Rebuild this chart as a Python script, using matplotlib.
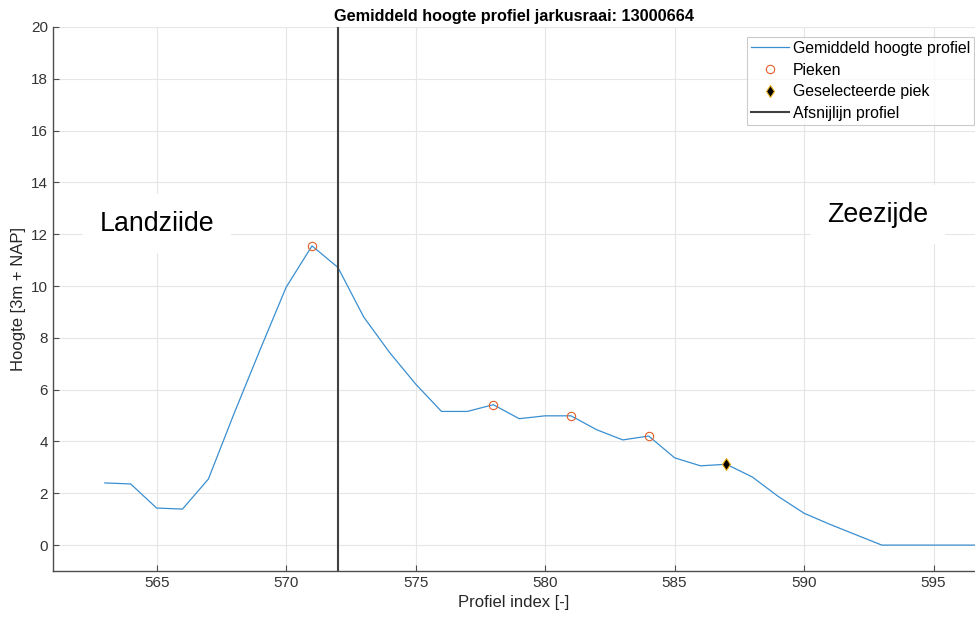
import matplotlib
matplotlib.use("Agg")
from matplotlib import pyplot as plt
import numpy as np

plt.rcParams['font.family'] = ['Liberation Sans', 'DejaVu Sans']

# Profile data
profiel_index = list(range(563, 598))
hoogte = [2.40, 2.36, 1.43, 1.39, 2.55, 5.10, 7.55, 9.95, 11.55, 10.72,
          8.80, 7.43, 6.22, 5.16, 5.16, 5.42, 4.88, 4.99, 4.99, 4.45,
          4.06, 4.21, 3.37, 3.06, 3.12, 2.63, 1.88, 1.23, 0.80, 0.40,
          0.0, 0.0, 0.0, 0.0, 0.0]

pieken_x = [571, 578, 581, 584]
pieken_y = [11.55, 5.42, 4.99, 4.21]

geselecteerd_x = [587]
geselecteerd_y = [3.12]

afsnijlijn = 572

fig = plt.figure(figsize=(9.75, 6.2), dpi=100)
ax = fig.add_axes([53 / 975, 1 - 571 / 620, 1 - 53 / 975, (571 - 27) / 620])

ax.plot(profiel_index, hoogte, color='#3a8fd0', lw=0.9, label='Gemiddeld hoogte profiel')
ax.plot(pieken_x, pieken_y, 'o', mfc='none', mec='#e0602a', ms=6, mew=0.8, label='Pieken')
ax.plot(geselecteerd_x, geselecteerd_y, 'd', mfc='black', mec='#EDB120', ms=6, mew=0.8,
        label='Geselecteerde piek')
ax.axvline(afsnijlijn, color='#404040', lw=1.5, label='Afsnijlijn profiel')

ax.set_xlim(561, 596.6)
ax.set_ylim(-1, 20)
ax.set_xticks(np.arange(565, 596, 5))
ax.set_yticks(np.arange(0, 21, 2))
ax.grid(True, color='#e6e6e6', lw=0.8)
ax.set_axisbelow(True)

for s in ['top', 'right']:
    ax.spines[s].set_visible(False)
for s in ['left', 'bottom']:
    ax.spines[s].set_color('#4d4d4d')
    ax.spines[s].set_linewidth(1.0)
ax.tick_params(direction='in', length=4, color='#4d4d4d', labelcolor='#333333', labelsize=11)

ax.set_xlabel('Profiel index [-]', fontsize=12, color='#262626')
ax.set_ylabel('Hoogte [3m + NAP]', fontsize=12, color='#262626')
ax.set_title('Gemiddeld hoogte profiel jarkusraai: 13000664', fontsize=11.7, fontweight='bold', pad=4)

ax.text(562.8, 12.4, 'Landziide', fontsize=19.3, va='center', ha='left',
        bbox=dict(facecolor='white', edgecolor='none', pad=12))
ax.text(592.85, 12.75, 'Zeezijde', fontsize=19.3, va='center', ha='center',
        bbox=dict(facecolor='white', edgecolor='none', pad=12))

leg = ax.legend(loc='upper left', bbox_to_anchor=(747 / 975, 1 - 37 / 620),
                bbox_transform=fig.transFigure, fontsize=11.4, frameon=True, fancybox=False,
                edgecolor='#bfbfbf', borderpad=0.25, labelspacing=0.42,
                handlelength=2.4, handletextpad=0.25, borderaxespad=0)
leg.get_frame().set_linewidth(0.8)

fig.savefig('out.png', dpi=100)
